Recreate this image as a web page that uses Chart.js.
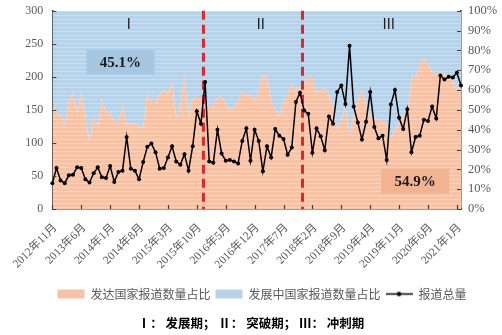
<!DOCTYPE html>
<html>
<head>
<meta charset="utf-8">
<script src="https://cdn.jsdelivr.net/npm/chart.js@4.4.1/dist/chart.umd.min.js"></script>
<style>
  html, body { margin: 0; padding: 0; background: #ffffff; }
  #wrap { width: 502px; height: 335px; position: relative; }
</style>
</head>
<body>
<div id="wrap"><canvas id="c" width="502" height="335"></canvas></div>
<script>
// ---------------- DATA ----------------
const startYear = 2012;
const startMonth = 11;
const monthCount = 100;           // 2012年11月 … 2021年2月
const labelEvery = 7;             // a tick label every 7 months

// 报道总量 (left axis)
const totalReports = [
  39, 62, 43, 39, 51, 52, 63, 62, 45, 40,
  54, 63, 48, 47, 65, 41, 56, 58, 109, 61,
  58, 45, 71, 94, 99, 86, 61, 62, 78, 95,
  72, 67, 83, 58, 95, 148, 129, 192, 72, 70,
  120, 84, 73, 74, 72, 69, 103, 122, 73, 120,
  103, 57, 95, 78, 121, 111, 106, 82, 93, 162,
  176, 149, 144, 85, 122, 110, 89, 140, 129, 177,
  187, 159, 247, 155, 131, 105, 132, 177, 124, 107,
  111, 74, 158, 180, 138, 121, 151, 86, 109, 111,
  135, 133, 155, 137, 202, 196, 200, 199, 206, 187
];

// 发达国家报道数量占比 (%) (right axis)
const developedShare = [
  54, 48, 48, 42, 55, 59, 48, 59, 47, 34,
  48, 41, 56, 48, 49, 44, 44, 53, 43, 43,
  43, 42, 41, 59, 54, 54, 58, 60, 58, 64,
  46, 52, 68, 47, 56, 56, 56, 54, 52, 52,
  56, 57, 53, 50, 51, 55, 59, 57, 58, 55,
  60, 67, 67, 55, 50, 47, 54, 58, 63, 60,
  61, 63, 67, 66, 59, 60, 61, 58, 52, 40,
  45, 52, 37, 48, 55, 60, 53, 46, 46, 45,
  44, 43, 36, 40, 43, 48, 48, 66, 67, 73,
  76, 73, 69, 68, 69, 68, 67, 65, 60, 64
];
// 发展中国家报道数量占比 (%) = remainder of 100%
const developingShare = developedShare.map(v => 100 - v);

const leftTicks = [0, 50, 100, 150, 200, 250, 300];
const rightTicks = [0, 10, 20, 30, 40, 50, 60, 70, 80, 90, 100];

const seriesNames = ['发达国家报道数量占比', '发展中国家报道数量占比', '报道总量'];
const captionText = 'Ⅰ： 发展期； Ⅱ： 突破期； Ⅲ： 冲刺期';

// phase dividers (in month-index units) and phase labels
const phaseBreaks = [36.6, 60.6];
const phaseNames = ['Ⅰ', 'Ⅱ', 'Ⅲ'];
const phaseLabelIndex = [18.5, 50.5, 81.5];
const phaseLabelValue = 278;
const shareBoxes = [
  { text: '45.1%', index: 16.5, value: 222, kind: 'developing' },
  { text: '54.9%', index: 87.9, value: 42, kind: 'developed' }
];

// ---------------- BUILD ----------------
const months = [];
for (let k = 0; k < monthCount; k++) {
  const m0 = startMonth - 1 + k;
  months.push((startYear + Math.floor(m0 / 12)) + '年' + (m0 % 12 + 1) + '月');
}

const SALMON = '#F6C3A7';
const SALMON_LIGHT = '#F9D4C0';
const BLUE = '#B7D3EA';
const BLUE_LIGHT = '#C9DFF0';
const SALMON_BOX = '#F2B393';
const BLUE_BOX = '#A6C7E2';
const AXIS = '#404040';
const TXT = '#595959';
const SERIF = "'Liberation Serif', 'Times New Roman', 'Noto Sans CJK SC', serif";
const CJK = "'Noto Sans CJK SC', sans-serif";

function stripe(base, light) {
  const c = document.createElement('canvas');
  c.width = 4; c.height = 4;
  const g = c.getContext('2d');
  g.fillStyle = base; g.fillRect(0, 0, 4, 4);
  g.fillStyle = light; g.fillRect(0, 3, 4, 1);
  return g.createPattern(c, 'repeat');
}

const lineIcon = (() => {
  const c = document.createElement('canvas');
  c.width = 27; c.height = 9;
  const g = c.getContext('2d');
  g.strokeStyle = '#000'; g.lineWidth = 1.5;
  g.beginPath(); g.moveTo(0, 4.5); g.lineTo(27, 4.5); g.stroke();
  g.fillStyle = '#000';
  g.beginPath(); g.arc(13.5, 4.5, 2.2, 0, Math.PI * 2); g.fill();
  return c;
})();

const decorPlugin = {
  id: 'decor',
  afterLayout(chart) {
    // the reference legend row sits a little right of the canvas centre
    if (chart.legend) { chart.legend.left += 11; chart.legend.right += 11; }
  },
  afterDatasetDraw(chart, args) {
    if (args.index !== 0) return;           // after the salmon area: dividers, boxes, numerals
    const { ctx, chartArea, scales } = chart;
    const x = scales.x, y = scales.y;
    ctx.save();
    ctx.strokeStyle = '#E0262B';
    ctx.lineWidth = 3;
    ctx.setLineDash([9, 5]);
    phaseBreaks.forEach(b => {
      const px = x.getPixelForValue(b);
      ctx.beginPath();
      ctx.moveTo(px, chartArea.top);
      ctx.lineTo(px, chartArea.bottom);
      ctx.stroke();
    });
    ctx.setLineDash([]);
    shareBoxes.forEach(b => {
      const cx = x.getPixelForValue(b.index);
      const cy = y.getPixelForValue(b.value);
      ctx.fillStyle = b.kind === 'developing' ? BLUE_BOX : SALMON_BOX;
      ctx.fillRect(cx - 34, cy - 12.5, 68, 25);
      ctx.fillStyle = '#1a1a1a';
      ctx.font = 'bold 15px ' + SERIF;
      ctx.textAlign = 'center';
      ctx.textBaseline = 'middle';
      ctx.fillText(b.text, cx, cy + 1);
    });
    ctx.fillStyle = '#1a1a1a';
    ctx.font = '14px ' + SERIF;
    ctx.textAlign = 'center';
    ctx.textBaseline = 'middle';
    phaseNames.forEach((n, k) => {
      ctx.fillText(n, x.getPixelForValue(phaseLabelIndex[k]), y.getPixelForValue(phaseLabelValue));
    });
    ctx.restore();
  },
  afterDraw(chart) {
    const { ctx, chartArea, scales } = chart;
    ctx.save();
    ctx.strokeStyle = AXIS;
    ctx.lineWidth = 1.2;
    ctx.beginPath();
    for (let i = 0; i < months.length; i += labelEvery) {
      const px = Math.round(scales.x.getPixelForValue(i)) + 0.5;
      ctx.moveTo(px, chartArea.bottom);
      ctx.lineTo(px, chartArea.bottom - 4);
    }
    leftTicks.forEach(t => {
      const py = Math.round(scales.y.getPixelForValue(t)) + 0.5;
      ctx.moveTo(chartArea.left, py);
      ctx.lineTo(chartArea.left + 4, py);
    });
    rightTicks.forEach(t => {
      const py = Math.round(scales.y1.getPixelForValue(t)) + 0.5;
      ctx.moveTo(chartArea.right - 4, py);
      ctx.lineTo(chartArea.right, py);
    });
    ctx.stroke();
    ctx.restore();
  }
};

new Chart(document.getElementById('c'), {
  type: 'line',
  data: {
    labels: months,
    datasets: [
      {
        label: seriesNames[0],
        data: developedShare,
        yAxisID: 'y1',
        order: 1,
        fill: 'origin',
        backgroundColor: stripe(SALMON, SALMON_LIGHT),
        borderWidth: 0,
        pointRadius: 0,
        tension: 0,
        legendColor: SALMON
      },
      {
        label: seriesNames[1],
        data: developingShare,
        yAxisID: 'y1',
        order: 2,
        fill: '-1',
        backgroundColor: stripe(BLUE, BLUE_LIGHT),
        borderWidth: 0,
        pointRadius: 0,
        tension: 0,
        legendColor: BLUE
      },
      {
        label: seriesNames[2],
        data: totalReports,
        yAxisID: 'y',
        order: 0,
        fill: false,
        borderColor: '#000000',
        borderWidth: 1.5,
        pointRadius: 2,
        pointBackgroundColor: '#000000',
        pointBorderWidth: 0,
        tension: 0
      }
    ]
  },
  options: {
    responsive: false,
    animation: false,
    layout: { padding: { top: 10.7, left: 0, right: 0, bottom: 0 } },
    plugins: {
      tooltip: { enabled: false },
      legend: {
        position: 'bottom',
        labels: {
          usePointStyle: true,
          pointStyleWidth: 27,
          boxHeight: 9,
          padding: 5,
          color: TXT,
          font: { family: CJK, size: 12 },
          generateLabels(chart) {
            return chart.data.datasets.map((ds, i) => ({
              text: ds.label,
              fillStyle: ds.legendColor || '#000',
              strokeStyle: ds.legendColor || '#000',
              lineWidth: 0,
              pointStyle: i === 2 ? lineIcon : 'rect',
              hidden: false,
              datasetIndex: i,
              fontColor: TXT
            }));
          }
        }
      },
      title: {
        display: true,
        position: 'bottom',
        text: captionText,
        color: '#000000',
        font: { family: CJK, size: 12.5, weight: 'bold' },
        padding: { top: 6, bottom: 4 }
      }
    },
    scales: {
      x: {
        type: 'category',
        offset: false,
        grid: { display: false, drawTicks: false },
        border: { display: true, color: AXIS, width: 1.5 },
        ticks: {
          autoSkip: false,
          maxRotation: 45,
          minRotation: 45,
          padding: 12,
          labelOffset: 3,
          color: TXT,
          font: { family: SERIF, size: 11.5 },
          callback: (v, i) => (i % labelEvery === 0 ? months[i] : '')
        },
        afterFit: s => { s.height = 74; }
      },
      y: {
        position: 'left',
        min: 0, max: 300,
        afterBuildTicks: s => { s.ticks = leftTicks.map(v => ({ value: v })); },
        grid: { display: false, drawTicks: false },
        border: { display: true, color: AXIS, width: 1.5 },
        ticks: { padding: 9, color: TXT, font: { family: SERIF, size: 12 } },
        afterFit: s => { s.width = 44; s.paddingTop = 0; s.paddingBottom = 0; }
      },
      y1: {
        position: 'right',
        min: 0, max: 100,
        stacked: true,
        afterBuildTicks: s => { s.ticks = rightTicks.map(v => ({ value: v })); },
        grid: { display: false, drawTicks: false },
        border: { display: true, color: AXIS, width: 1.5 },
        ticks: { padding: 7, color: TXT, font: { family: SERIF, size: 12.5 }, callback: v => v + '%' },
        afterFit: s => { s.width = 41; s.paddingTop = 0; s.paddingBottom = 0; }
      }
    }
  },
  plugins: [decorPlugin]
});
</script>
</body>
</html>
